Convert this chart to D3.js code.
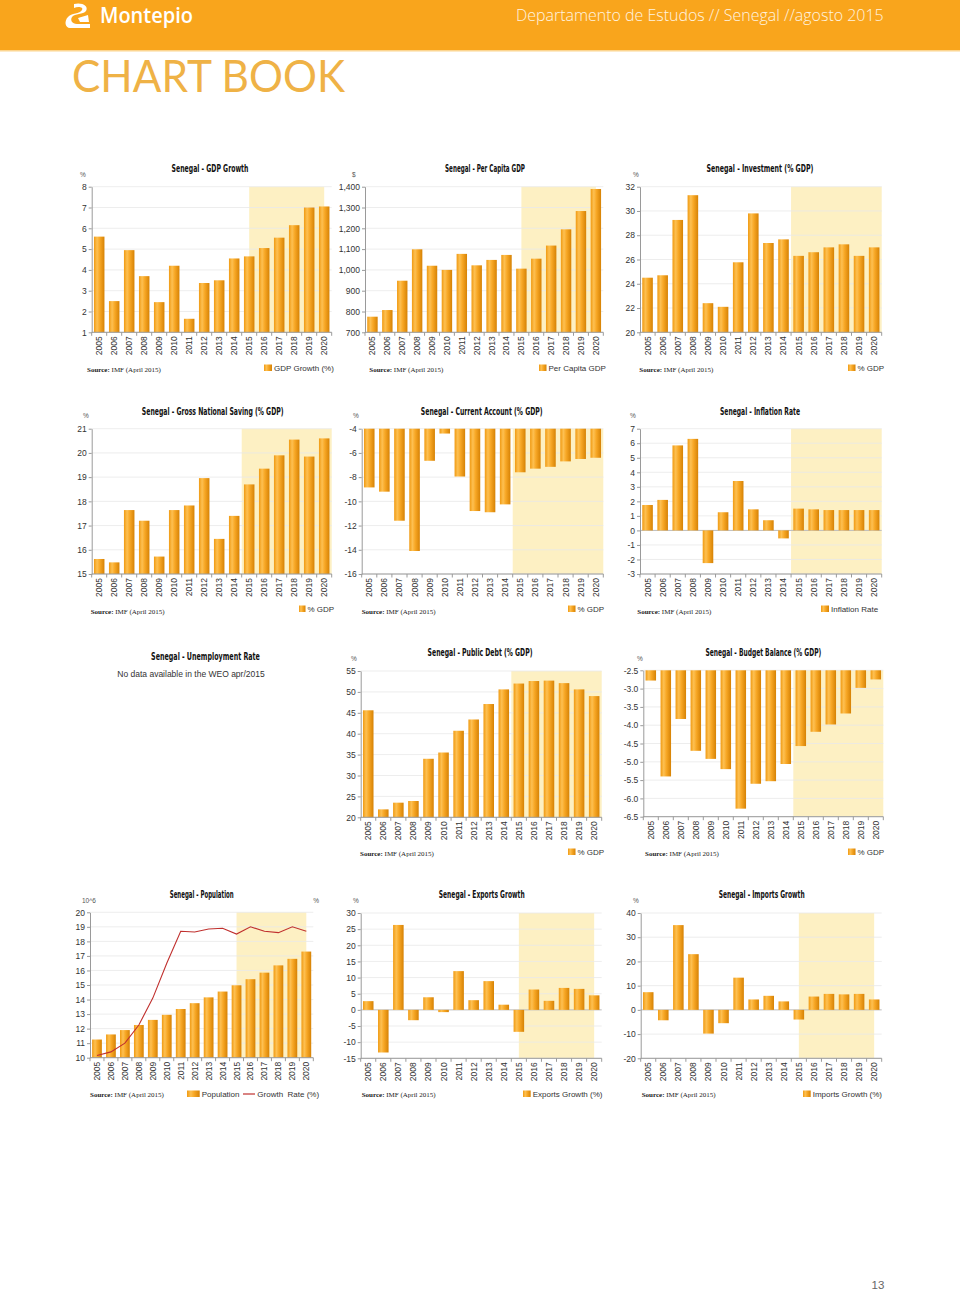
<!DOCTYPE html>
<html><head><meta charset="utf-8">
<script src="https://cdn.jsdelivr.net/npm/d3@7"></script>
<style>body{margin:0;background:#fff} svg{display:block}</style>
</head><body>
<svg id="page" width="960" height="1291"></svg>
<script>
// ---------------- DATA ----------------
const years = [2005,2006,2007,2008,2009,2010,2011,2012,2013,2014,2015,2016,2017,2018,2019,2020];
const gdpGrowth      = [5.6,2.5,4.95,3.7,2.45,4.2,1.65,3.37,3.5,4.55,4.65,5.05,5.55,6.15,7.0,7.05];
const perCapitaGdp   = [775,807,948,1099,1020,1000,1077,1022,1048,1072,1006,1054,1117,1195,1283,1389];
const investment     = [24.5,24.7,29.26,31.3,22.4,22.1,25.77,29.8,27.36,27.66,26.3,26.6,27.0,27.25,26.3,27.0];
const grossSaving    = [15.62,15.48,17.64,17.2,15.72,17.64,17.83,18.96,16.45,17.4,18.7,19.35,19.9,20.55,19.85,20.6];
const currentAccount = [-8.85,-9.2,-11.6,-14.1,-6.65,-4.4,-7.95,-10.8,-10.9,-10.25,-7.6,-7.3,-7.15,-6.7,-6.5,-6.4];
const inflation      = [1.75,2.1,5.85,6.3,-2.25,1.25,3.4,1.45,0.7,-0.55,1.5,1.45,1.4,1.4,1.4,1.4];
const publicDebt     = [45.6,21.9,23.5,23.9,34.0,35.5,40.7,43.4,47.1,50.6,52.0,52.6,52.7,52.1,50.6,49.0];
const budgetBalance  = [-2.78,-5.4,-3.83,-4.7,-4.92,-5.2,-6.28,-5.6,-5.53,-5.06,-4.57,-4.18,-3.98,-3.68,-2.98,-2.75];
const population     = [11.25,11.6,11.9,12.25,12.6,12.95,13.35,13.75,14.15,14.55,14.98,15.4,15.85,16.35,16.8,17.3];
const popGrowthRate  = [2.763,2.768,2.78,2.805,2.842,2.89,2.934,2.933,2.937,2.938,2.93,2.94,2.934,2.932,2.94,2.934];
const exportsGrowth  = [2.7,-13.2,26.3,-3.2,3.9,-0.7,12.0,3.0,8.9,1.6,-6.8,6.3,2.8,6.8,6.5,4.5];
const importsGrowth  = [7.3,-4.3,35.0,23.0,-9.8,-5.5,13.3,4.3,5.8,3.5,-4.0,5.5,6.6,6.4,6.6,4.3];

const gdpTicks       = [1,2,3,4,5,6,7,8];
const perCapitaTicks = [700,800,900,1000,1100,1200,1300,1400];
const investTicks    = [20,22,24,26,28,30,32];
const savingTicks    = [15,16,17,18,19,20,21];
const caTicks        = [-16,-14,-12,-10,-8,-6,-4];
const inflTicks      = [-3,-2,-1,0,1,2,3,4,5,6,7];
const debtTicks      = [20,25,30,35,40,45,50,55];
const budgetTicks    = [-6.5,-6.0,-5.5,-5.0,-4.5,-4.0,-3.5,-3.0,-2.5];
const popTicks       = [10,11,12,13,14,15,16,17,18,19,20];
const popRateTicks   = [2.76,2.78,2.80,2.82,2.84,2.86,2.88,2.90,2.92,2.94,2.96];
const exportsTicks   = [-15,-10,-5,0,5,10,15,20,25,30];
const importsTicks   = [-20,-10,0,10,20,30,40];

// ---------------- PAGE ----------------
const loc = d3.formatLocale({decimal:'.', thousands:',', grouping:[3], currency:['$',''], minus:'-'});
const svg = d3.select('#page');
const defs = svg.append('defs');
const grad = defs.append('linearGradient').attr('id','barGrad')
  .attr('x1','0%').attr('x2','100%').attr('y1','0%').attr('y2','0%');
[['0%','#F09A12'],['30%','#FDC052'],['55%','#F8A826'],['100%','#D68205']]
  .forEach(([o,c])=>grad.append('stop').attr('offset',o).attr('stop-color',c));

const SANS = "'Liberation Sans', Arial, sans-serif";
const NARROW = "'Liberation Sans Narrow','DejaVu Sans Condensed','Liberation Sans',sans-serif";
const SERIF = "'Liberation Serif','Times New Roman',serif";
const TICK_FS = 8.5;
const LEG_FS = 8;

// text squeezed horizontally to a target width (scale transform keeps bbox honest)
function fitText(txt, x, y, w, anchor, attrs){
  const t = svg.append('text').attr('x',0).attr('y',0).attr('text-anchor',anchor).text(txt);
  Object.entries(attrs).forEach(([k,v])=>t.attr(k,v));
  const w0 = t.node().getComputedTextLength() || w;
  t.attr('transform',`translate(${x},${y}) scale(${w/w0},1)`);
  return t;
}

// header
svg.append('rect').attr('x',0).attr('y',0).attr('width',960).attr('height',50).attr('fill','#F9A51C');
svg.append('rect').attr('x',0).attr('y',50).attr('width',960).attr('height',1.5).attr('fill','#FCD590');
svg.append('path')
  .attr('d','M74,4 C82,2 89,6 86,11 C83,15 75,13 72,17 C70,20 72,24 77,24 L90,24 L90,28 L70,28 C65,28 64,21 68,17 C71,13 80,14 82,10 C84,7 78,6 74,8 Z M78,18 L88,15 L89,22 L80,22 Z')
  .attr('fill','#fff');
fitText('Montepio', 100, 23, 93, 'start', {'font-family':"'Open Sans',sans-serif",'font-weight':600,'font-size':21,'fill':'#fff'});
fitText('Departamento de Estudos // Senegal //agosto 2015', 516, 21, 368, 'start',
  {'font-family':"'Open Sans',sans-serif",'font-weight':300,'font-size':15.5,'fill':'#FFF4E0'});
fitText('CHART BOOK', 72, 92, 273, 'start', {'font-family':"Lato,'Open Sans',sans-serif",'font-weight':400,'font-size':45,'fill':'#EFB246'});
svg.append('text').attr('x',878).attr('y',1289).text('13').attr('text-anchor','middle')
  .attr('font-family',SANS).attr('font-size',11.5).attr('fill','#666');

function title(txt, cx, y, w){
  fitText(txt, cx, y, w, 'middle', {'font-family':NARROW,'font-weight':'bold','font-size':11,'fill':'#111'});
}
function source(x, y){
  const t = svg.append('text').attr('x',x).attr('y',y).attr('font-family',SERIF).attr('font-size',7).attr('fill','#222');
  t.append('tspan').attr('font-weight','bold').text('Source:');
  t.append('tspan').text(' IMF (April 2015)');
}
function legendBar(sx, tx, y, label){
  svg.append('rect').attr('x',sx).attr('y',y-6.5).attr('width',tx-sx-2).attr('height',6.5).attr('fill','url(#barGrad)');
  svg.append('text').attr('x',tx).attr('y',y).text(label).attr('font-family',SANS).attr('font-size',LEG_FS).attr('fill','#333');
}

const fInt = loc.format('d'), fComma = loc.format(','), fOne = loc.format('.1f');
const charts = [
 {v:gdpGrowth, t:gdpTicks, f:fInt, base:1, title:'Senegal - GDP Growth', tx:210, ty:172, tw:77, unit:'%', ux:80, uy:177,
  x0:91.7, x1:331.7, yTop:186.7, yBot:332.3, shade:'center', lsx:264, ltx:274, ly:371, lab:'GDP Growth (%)', sx:87, sy:371.5},
 {v:perCapitaGdp, t:perCapitaTicks, f:fComma, base:700, title:'Senegal - Per Capita GDP', tx:485, ty:172, tw:80, unit:'$', ux:352, uy:177,
  x0:365, x1:603.3, yTop:186.7, yBot:332.3, shade:'center', lsx:539, ltx:548.5, ly:371, lab:'Per Capita GDP', sx:369.3, sy:371.5},
 {v:investment, t:investTicks, f:fInt, base:20, title:'Senegal - Investment  (% GDP)', tx:760, ty:172, tw:107, unit:'%', ux:633, uy:177,
  x0:640, x1:881.7, yTop:186.7, yBot:332.3, shade:'band', lsx:848, ltx:857.5, ly:371, lab:'% GDP', sx:639.3, sy:371.5},
 {v:grossSaving, t:savingTicks, f:fInt, base:15, title:'Senegal - Gross National Saving (% GDP)', tx:212.7, ty:414.5, tw:142, unit:'%', ux:83, uy:418,
  x0:91.7, x1:331.7, yTop:428.7, yBot:574, shade:'band', lsx:299, ltx:307.5, ly:612, lab:'% GDP', sx:90.7, sy:613.5},
 {v:currentAccount, t:caTicks, f:fInt, base:-4, title:'Senegal - Current Account (% GDP)', tx:481.7, ty:414.5, tw:122, unit:'%', ux:353, uy:418,
  x0:361.7, x1:603.3, yTop:428.7, yBot:574, shade:'band', lsx:568, ltx:577.5, ly:612, lab:'% GDP', sx:361.7, sy:613.5},
 {v:inflation, t:inflTicks, f:fInt, base:0, zero:true, title:'Senegal - Inflation Rate', tx:760, ty:414.5, tw:80, unit:'%', ux:630, uy:418,
  x0:640, x1:881.7, yTop:428.7, yBot:574, shade:'band', lsx:821, ltx:831, ly:612, lab:'Inflation Rate', sx:637.3, sy:613.5},
 {v:publicDebt, t:debtTicks, f:fInt, base:20, title:'Senegal - Public Debt (% GDP)', tx:480, ty:655.5, tw:105, unit:'%', ux:351, uy:661,
  x0:360.7, x1:601.7, yTop:671, yBot:817.3, shade:'band', lsx:568, ltx:577.5, ly:855, lab:'% GDP', sx:360, sy:856},
 {v:budgetBalance, t:budgetTicks, f:fOne, base:-2.5, title:'Senegal - Budget Balance (% GDP)', tx:763.3, ty:655.5, tw:116, unit:'%', ux:637, uy:661,
  x0:643.3, x1:883.3, yTop:670.3, yBot:816.7, shade:'band', lsx:848, ltx:857.5, ly:855, lab:'% GDP', sx:645, sy:856},
 {v:population, t:popTicks, f:fInt, base:10, title:'Senegal - Population', tx:201.7, ty:898, tw:64, unit:'10^6', ux:82, uy:903,
  x0:90, x1:313.3, yTop:912.3, yBot:1057.7, shade:'center', pop:true, sx:90, sy:1097},
 {v:exportsGrowth, t:exportsTicks, f:fInt, base:0, zero:true, title:'Senegal - Exports Growth', tx:481.7, ty:898, tw:86, unit:'%', ux:353, uy:903,
  x0:360.7, x1:601.7, yTop:913, yBot:1058.3, shade:'center', lsx:523, ltx:532.7, ly:1097, lab:'Exports Growth (%)', sx:361.7, sy:1097},
 {v:importsGrowth, t:importsTicks, f:fInt, base:0, zero:true, title:'Senegal - Imports Growth', tx:761.7, ty:898, tw:86, unit:'%', ux:633, uy:903,
  x0:640.7, x1:881.7, yTop:913, yBot:1058.3, shade:'center', lsx:803, ltx:812.7, ly:1097, lab:'Imports Growth (%)', sx:641.7, sy:1097}
];

function draw(c){
  const g = svg.append('g');
  const x = d3.scaleBand().domain(years).range([c.x0,c.x1]).paddingInner(0.3).paddingOuter(0.15);
  const y = d3.scaleLinear().domain(d3.extent(c.t)).range([c.yBot,c.yTop]);
  const bw = x.bandwidth(), gap = (x.step()-bw)/2;
  let s0, s1;
  if (c.shade==='center'){ s0 = x(2015)+bw/2; s1 = x(2020)+bw/2; }
  else { s0 = x(2015)-gap; s1 = c.x1; }
  g.append('rect').attr('x',s0).attr('y',c.yTop).attr('width',s1-s0).attr('height',c.yBot-c.yTop).attr('fill','#FDF0C3');
  g.append('g').selectAll('line').data(c.t).join('line')
    .attr('x1',c.x0).attr('x2',c.x1).attr('y1',d=>y(d)).attr('y2',d=>y(d))
    .attr('stroke',d=>(c.zero&&d===0)?'#bcbcbc':'#e8e8e8').attr('stroke-width',d=>(c.zero&&d===0)?1:0.8);
  g.append('g').selectAll('rect').data(years).join('rect')
    .attr('x',d=>x(d)).attr('width',bw)
    .attr('y',(d,i)=>Math.min(y(c.v[i]),y(c.base)))
    .attr('height',(d,i)=>Math.abs(y(c.v[i])-y(c.base)))
    .attr('fill','url(#barGrad)');
  const ax = g.append('g').attr('transform',`translate(${c.x0},0)`)
    .call(d3.axisLeft(y).tickValues(c.t).tickSize(3).tickSizeOuter(0).tickPadding(2).tickFormat(c.f));
  ax.select('.domain').attr('stroke','#9a9a9a');
  ax.selectAll('.tick line').attr('stroke','#9a9a9a');
  ax.selectAll('text').attr('font-family',SANS).attr('font-size',TICK_FS).attr('fill','#333');
  g.append('line').attr('x1',c.x0).attr('x2',c.x1).attr('y1',c.yBot).attr('y2',c.yBot).attr('stroke','#9a9a9a');
  const bounds = years.map(d=>x(d)-gap).concat([x(years[years.length-1])+bw+gap]);
  g.append('g').selectAll('line').data(bounds).join('line')
    .attr('x1',d=>d).attr('x2',d=>d).attr('y1',c.yBot).attr('y2',c.yBot+3.5).attr('stroke','#9a9a9a');
  g.append('g').selectAll('text').data(years).join('text')
    .attr('transform',d=>`translate(${x(d)+bw/2},${c.yBot+4}) rotate(-90)`)
    .attr('text-anchor','end').attr('dy','0.35em').text(d=>d)
    .attr('font-family',SANS).attr('font-size',TICK_FS).attr('fill','#333');
  svg.append('text').attr('x',c.ux).attr('y',c.uy).text(c.unit).attr('font-family',SANS).attr('font-size',6.5).attr('fill','#555');
  title(c.title, c.tx, c.ty, c.tw);
  source(c.sx, c.sy);
  if (c.pop){
    const y2 = d3.scaleLinear().domain(d3.extent(popRateTicks)).range([c.yBot,c.yTop]);
    defs.append('clipPath').attr('id','rclip').append('rect').attr('x',c.x1).attr('y',c.yTop-10).attr('width',20).attr('height',c.yBot-c.yTop+20);
    const ar = g.append('g').attr('transform',`translate(${c.x1},0)`).attr('clip-path','url(#rclip)');
    ar.call(d3.axisRight(y2).tickValues(popRateTicks).tickSize(3).tickSizeOuter(0).tickPadding(2).tickFormat(loc.format('.2f')));
    ar.select('.domain').attr('stroke','#9a9a9a');
    ar.selectAll('.tick line').attr('stroke','#9a9a9a');
    ar.selectAll('text').attr('font-family',SANS).attr('font-size',TICK_FS).attr('fill','#333');
    const line = d3.line().x((d,i)=>x(years[i])+bw/2).y(d=>y2(d));
    g.append('path').datum(popGrowthRate).attr('d',line).attr('fill','none').attr('stroke','#C0302E').attr('stroke-width',1.1);
    svg.append('text').attr('x',c.x1).attr('y',c.uy).text('%').attr('font-family',SANS).attr('font-size',6.5).attr('fill','#555');
    legendBar(187, 201.7, 1097, 'Population');
    svg.append('line').attr('x1',243).attr('x2',255).attr('y1',1094).attr('y2',1094).attr('stroke','#C0302E').attr('stroke-width',1.2);
    svg.append('text').attr('x',257.3).attr('y',1097).text('Growth  Rate (%)').attr('font-family',SANS).attr('font-size',LEG_FS).attr('fill','#333').style('white-space','pre');
  } else {
    legendBar(c.lsx, c.ltx, c.ly, c.lab);
  }
}
charts.forEach(draw);

// Unemployment (no data)
title('Senegal - Unemployment Rate', 205.5, 660, 109);
svg.append('text').attr('x',191).attr('y',677).attr('text-anchor','middle').text('No data available in the WEO apr/2015')
  .attr('font-family',SANS).attr('font-size',8.5).attr('fill','#333');
</script>
</body></html>
